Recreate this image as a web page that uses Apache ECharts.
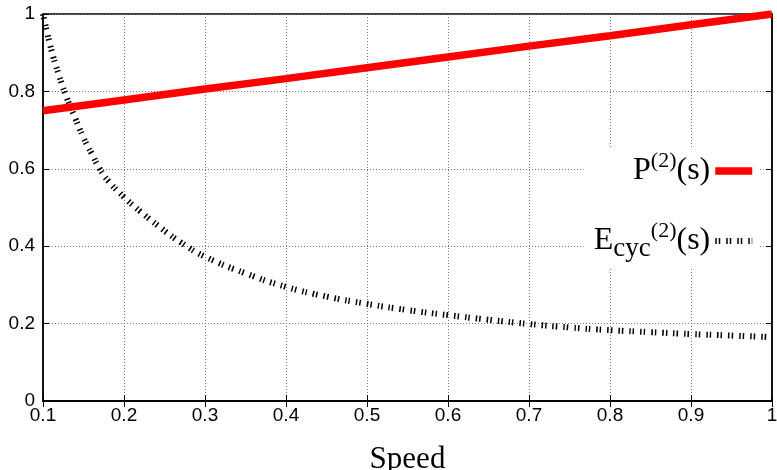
<!DOCTYPE html>
<html>
<head>
<meta charset="utf-8">
<script src="https://cdn.jsdelivr.net/npm/echarts@6/dist/echarts.min.js"></script>
<style>
  html, body { margin: 0; padding: 0; background: #fff; }
  #chart { width: 777px; height: 470px; }
</style>
</head>
<body>
<div id="chart"></div>
<script>
// speed values and curves
var powerSpeed = [0.1, 0.2, 0.3, 0.4, 0.5, 0.6, 0.7, 0.8, 0.9, 1.0]
var powerVal = [0.75, 0.778, 0.806, 0.833, 0.861, 0.889, 0.917, 0.944, 0.972, 1.0]

var ecycSpeed = [0.1, 0.11, 0.12, 0.13, 0.14, 0.15, 0.16, 0.17, 0.18, 0.2, 0.22, 0.25, 0.27, 0.3, 0.35,
    0.4, 0.45, 0.5, 0.55, 0.6, 0.65, 0.7, 0.75, 0.8, 0.85, 0.9, 0.95, 1.0]
var ecycVal = [1.0, 0.91, 0.84, 0.78, 0.73, 0.68, 0.64, 0.60, 0.57, 0.527, 0.49, 0.44, 0.41, 0.373, 0.33,
    0.295, 0.27, 0.251, 0.235, 0.222, 0.21, 0.199, 0.19, 0.183, 0.178, 0.173, 0.169, 0.165]

var xTicks = [0.1, 0.2, 0.3, 0.4, 0.5, 0.6, 0.7, 0.8, 0.9, 1]
var yTicks = [0, 0.2, 0.4, 0.6, 0.8, 1]

function zip(a, b) {
    var out = []
    for (var i = 0; i < a.length; i++) out.push([a[i], b[i]])
    return out
}

var labelFont = {
    color: '#000',
    fontFamily: 'Liberation Sans, Arial, sans-serif',
    fontSize: 19
}
var serif = 'Liberation Serif, Times New Roman, serif'
var dotted = [1.5, 2, 1.5, 6]

var option = {
    animation: false,
    grid: {
        left: 43,
        right: 5,
        top: 14,
        bottom: 69,
        outerBoundsMode: 'none',
        containLabel: false,
        show: true,
        borderColor: '#000',
        borderWidth: 1.5,
        backgroundColor: '#fff'
    },
    xAxis: [{
        type: 'value',
        min: 0.1,
        max: 1,
        interval: 0.1,
        name: 'Speed',
        nameLocation: 'middle',
        nameGap: 43,
        nameTextStyle: {
            color: '#000',
            fontFamily: serif,
            fontSize: 31
        },
        axisLine: { show: true, onZero: false, lineStyle: { color: '#000', width: 1.5 } },
        axisTick: { show: true, inside: true, length: 6, lineStyle: { color: '#000' } },
        axisLabel: Object.assign({
            margin: 5,
            formatter: function (v) {
                var r = Math.round(v * 10) / 10
                return xTicks.indexOf(r) >= 0 ? String(r) : ''
            }
        }, labelFont),
        splitLine: { show: true, lineStyle: { color: '#777', type: [1, 2], width: 1 } }
    }, {
        type: 'value',
        position: 'top',
        min: 0.1,
        max: 1,
        interval: 0.1,
        axisLine: { show: true, lineStyle: { color: '#000', width: 1.5 } },
        axisTick: { show: true, inside: true, length: 6, lineStyle: { color: '#000' } },
        axisLabel: { show: false },
        splitLine: { show: false }
    }],
    yAxis: [{
        type: 'value',
        min: 0,
        max: 1,
        interval: 0.2,
        axisLine: { show: true, lineStyle: { color: '#000', width: 1.5 } },
        axisTick: { show: true, inside: true, length: 6, lineStyle: { color: '#000' } },
        axisLabel: Object.assign({
            margin: 8,
            formatter: function (v) {
                var r = Math.round(v * 10) / 10
                return yTicks.indexOf(r) >= 0 ? String(r) : ''
            }
        }, labelFont),
        splitLine: { show: true, lineStyle: { color: '#777', type: [1, 2], width: 1 } }
    }, {
        type: 'value',
        position: 'right',
        min: 0,
        max: 1,
        interval: 0.2,
        axisLine: { show: true, lineStyle: { color: '#000', width: 1.5 } },
        axisTick: { show: true, inside: true, length: 6, lineStyle: { color: '#000' } },
        axisLabel: { show: false },
        splitLine: { show: false }
    }],
    legend: {
        orient: 'vertical',
        right: 17,
        top: 148,
        align: 'right',
        itemWidth: 37,
        itemHeight: 14,
        itemGap: 33,
        backgroundColor: '#fff',
        padding: [2, 4, 6, 10],
        data: [
            { name: 'P', itemStyle: { opacity: 0 }, lineStyle: { color: '#ff0000', width: 7.5, type: 'solid', cap: 'butt' } },
            { name: 'E', itemStyle: { opacity: 0 }, lineStyle: { color: '#000', width: 6, type: dotted, cap: 'butt' } }
        ],
        formatter: function (name) {
            if (name === 'P') return '{b|P}{sup|(2)}{b|(s)}'
            return '{b|E}{sub|cyc}{sup|(2)}{b|(s)}'
        },
        textStyle: {
            color: '#000',
            fontFamily: serif,
            fontSize: 32,
            rich: {
                b: { fontSize: 32, lineHeight: 42, fontFamily: serif, color: '#000' },
                sup: { fontSize: 22, lineHeight: 22, verticalAlign: 'top', fontFamily: serif, color: '#000' },
                sub: { fontSize: 27, lineHeight: 27, verticalAlign: 'bottom', fontFamily: serif, color: '#000' }
            }
        }
    },
    series: [{
        name: 'P',
        type: 'line',
        symbol: 'none',
        data: zip(powerSpeed, powerVal),
        lineStyle: { color: '#ff0000', width: 7.5 },
        itemStyle: { color: '#ff0000' },
        z: 3
    }, {
        name: 'E',
        type: 'line',
        symbol: 'none',
        smooth: true,
        data: zip(ecycSpeed, ecycVal),
        lineStyle: { color: '#000', width: 6, type: dotted, cap: 'butt' },
        itemStyle: { color: '#000' },
        z: 2
    }]
}

var myChart = echarts.init(document.getElementById('chart'), null, { renderer: 'canvas' })
myChart.setOption(option)
</script>
</body>
</html>
